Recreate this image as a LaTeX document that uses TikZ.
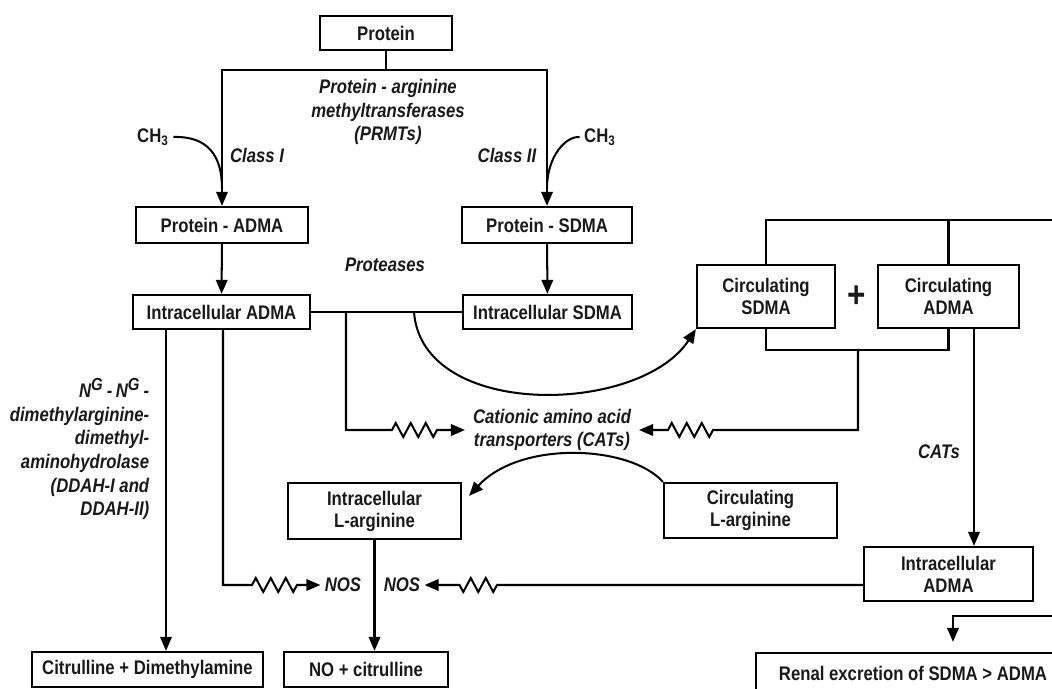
\documentclass[tikz,border=0pt]{standalone}
\usepackage{fontspec}
\setmainfont{Liberation Sans}[FakeStretch=0.85]
\usepackage{tikz}
\usetikzlibrary{arrows.meta,positioning,decorations.pathmorphing}
\tikzset{>={Triangle[length=2.8mm,width=2.3mm]}}
\tikzset{
    box/.style={draw,line width=1.3pt,align=center,inner sep=2pt,
        font=\fontsize{11.2}{12.5}\selectfont\bfseries},
    lbl/.style={align=center,inner sep=1pt,
        font=\fontsize{11.2}{13.5}\selectfont\bfseries\itshape},
    zz/.style={decoration={zigzag,segment length=0.3cm,amplitude=0.14cm}}
}
\newcommand{\supG}{\textsuperscript{\fontsize{10}{10}\selectfont G}}

\begin{document}
\begin{tikzpicture}[x=0.02cm,y=0.02cm,line width=1.15pt,text=black!90]
    \useasboundingbox (0,0) rectangle (1052,-689);
    % boxes
    \node[box,minimum width=2.64cm,minimum height=0.68cm] at (386,-33) (prot) {Protein};
    \node[box,minimum width=3.44cm,minimum height=0.72cm] at (222,-225) (padma) {Protein - ADMA};
    \node[box,minimum width=3.40cm,minimum height=0.72cm] at (547,-225) (psdma) {Protein - SDMA};
    \node[box,minimum width=3.54cm,minimum height=0.68cm] at (221.5,-312) (iadma) {Intracellular ADMA};
    \node[box,minimum width=3.38cm,minimum height=0.68cm] at (547.5,-312) (isdma) {Intracellular SDMA};
    \node[box,minimum width=2.76cm,minimum height=1.26cm] at (766,-296.5) (csdma) {Circulating\\SDMA};
    \node[box,minimum width=2.82cm,minimum height=1.26cm] at (948.5,-296.5) (cadma) {Circulating\\ADMA};
    \node[font=\fontsize{21}{21}\selectfont\bfseries] at (857,-297) (plus) {+};
    \node[box,minimum width=3.46cm,minimum height=1.12cm] at (374.5,-511) (iarg) {Intracellular\\L-arginine};
    \node[box,minimum width=3.46cm,minimum height=1.10cm] at (750.5,-510.5) (carg) {Circulating\\L-arginine};
    \node[box,minimum width=3.38cm,minimum height=1.08cm] at (948.5,-574) (iadma2) {Intracellular\\ADMA};
    \node[box,minimum width=4.62cm,minimum height=0.70cm] at (147.5,-669.5) (citr) {Citrulline + Dimethylamine};
    \node[box,minimum width=3.28cm,minimum height=0.70cm] at (366,-669.5) (no) {NO + citrulline};
    \node[box,minimum width=6.28cm,minimum height=0.80cm] at (913,-673) (renal) {Renal excretion of SDMA > ADMA};
    % labels
    \node[lbl] at (388,-112) (prmt) {Protein - arginine\\methyltransferases\\(PRMTs)};
    \node[box,draw=none] at (153,-137) (ch3l) {CH\textsubscript{3}};
    \node[box,draw=none] at (600,-137) (ch3r) {CH\textsubscript{3}};
    \node[lbl] at (257,-155) (cls1) {Class I};
    \node[lbl] at (507,-155) (cls2) {Class II};
    \node[lbl] at (385,-265) (prot1) {Proteases};
    \node[lbl,align=right,anchor=east] at (152,-449) (ddah) {N\supG\,-\,N\supG\,-\\dimethylarginine-\\dimethyl-\\aminohydrolase\\(DDAH-I and\\DDAH-II)};
    \node[lbl,inner sep=4pt] at (552,-430) (cats) {Cationic amino acid\\transporters (CATs)};
    \node[lbl] at (939,-452) (cats2) {CATs};
    \node[lbl,inner sep=2pt] at (343,-585) (nosl) {NOS};
    \node[lbl,inner sep=2pt] at (402,-585) (nosr) {NOS};
    % helper points
    \coordinate (split) at (386,-70);
    \coordinate (b1) at (346,-312);
    \coordinate (b2) at (414,-312);
    \coordinate (b3) at (858,-349);
    \coordinate (rt) at (1064,-220);
    \coordinate (rb) at (1064,-616);
    \coordinate (z1a) at (392,-430);
    \coordinate (z1b) at (437,-430);
    \coordinate (z2a) at (713,-430);
    \coordinate (z2b) at (667,-430);
    \coordinate (z3a) at (252,-585);
    \coordinate (z3b) at (297,-585);
    \coordinate (z4a) at (497,-585);
    \coordinate (z4b) at (455,-585);
    % methylation
    \draw (prot.south) -- (split);
    \draw[->] (split) -| (padma.north);
    \draw[->] (split) -| (psdma.north);
    \draw (ch3l.east) .. controls (208,-136) and ([yshift=1.0cm]padma.north) .. ([yshift=0.35cm]padma.north);
    \draw (ch3r.west) .. controls (566,-136) and ([yshift=1.0cm]psdma.north) .. ([yshift=0.35cm]psdma.north);
    \draw[->] (padma) -- (iadma);
    \draw[->] (psdma) -- (isdma);
    \draw (iadma) -- (isdma);
    % transport
    \draw[->] (b2) .. controls (422,-420) and (640,-415) .. (csdma.south west);
    \draw[->,zz] (b1) |- (z1a) decorate {-- (z1b)} -- (cats.west);
    \draw (csdma.south) -- ++(0,-21) -| (cadma.south);
    \draw[->,zz] (b3) |- (z2a) decorate {-- (z2b)} -- (cats.east);
    \draw (csdma.north) |- (rt) -- (rb);
    \draw (cadma.north) -- (cadma.north |- rt);
    \draw[->,shorten >=0.2cm] (rb) -| ([xshift=0.8cm]renal.north);
    \draw[->] ([xshift=0.51cm]cadma.south) -- ([xshift=0.51cm]iadma2.north);
    \draw[->] (carg.north west) .. controls (630,-445) and (520,-440) .. ([xshift=0.14cm,yshift=-0.28cm]iarg.north east);
    % products
    \draw[->] ([xshift=-1.11cm]iadma.south) -- ([xshift=-1.11cm]iadma.south |- citr.north);
    \draw[->,zz] ([xshift=0.03cm]iadma.south) |- (z3a) decorate {-- (z3b)} -- (nosl.west);
    \draw[->,zz] ([yshift=-0.22cm]iadma2.west) -- (z4a) decorate {-- (z4b)} -- (nosr.east);
    \draw[->] (iarg.south) -- (iarg.south |- no.north);
\end{tikzpicture}
\end{document}
